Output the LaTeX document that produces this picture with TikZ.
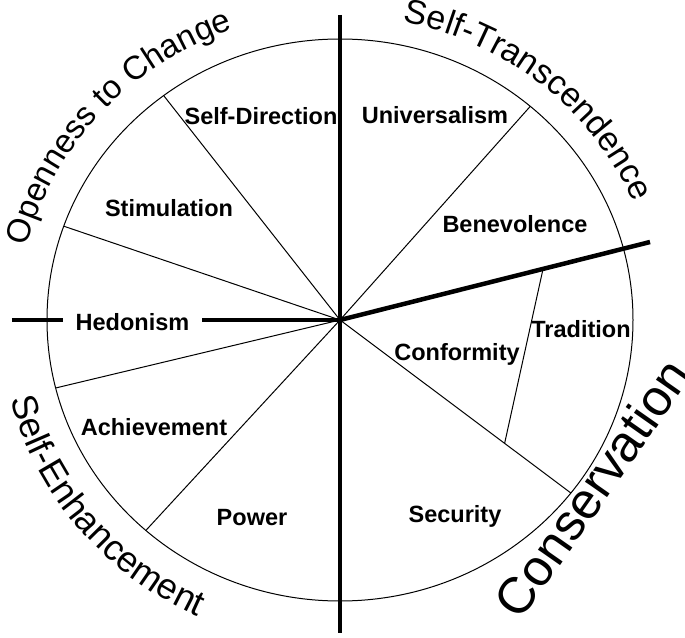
\documentclass[tikz,border=0pt]{standalone}
\usepackage{fontspec}
\setmainfont{Liberation Sans}
\usetikzlibrary{calc,decorations.text}
\newcommand{\valuefont}{\fontsize{23.5}{28}\bfseries\selectfont}
\newcommand{\groupfont}[1]{\fontsize{#1}{#1}\selectfont}
\tikzset{
  value/.style={font=\valuefont, inner sep=0pt, anchor=base},
  split/.style={line width=4.5pt},
  spoke/.style={line width=1pt},
  group/.style n args={2}{decorate, decoration={text along path, text align=center, text={|\groupfont{#1}|#2}}},
}

\begin{document}
\begin{tikzpicture}[x=1pt,y=1pt]
    \useasboundingbox (-340,-317) rectangle (345,320);
    \coordinate (O) at (0,0);
    % circle and thin spokes
    \draw[spoke] (O) ellipse [x radius=293, y radius=281];
    \foreach \angle in {127,160.5,194,228.5,49.5} {
       \draw[spoke] (O) -- (\angle:293 and 281);
     }
    \coordinate (secend) at (-38:293 and 281);
    \draw[spoke] (O) -- (secend);
    % bold axes
    \coordinate (top) at (0,305);
    \coordinate (bottom) at (0,-313);
    \coordinate (westend) at (-328,0);
    \coordinate (eastend) at (310,78);
    \draw[split] (top) -- (bottom);
    \draw[split] (O) -- (eastend);
    \coordinate (trad-a) at ($(O)!0.655!(eastend)$);
    \coordinate (trad-b) at ($(O)!0.713!(secend)$);
    \draw[spoke] (trad-a) -- (trad-b);
    % values
    \node[value] (selfdir) at (-79,195) {Self-Direction};
    \node[value] (stim) at (-171,103) {Stimulation};
    \node[value, inner xsep=12.7pt] (hedonism) at (-207.5,-10) {Hedonism};
    \draw[split] (westend) -- (hedonism.west |- O);
    \draw[split] (hedonism.east |- O) -- (O);
    \node[value] (achieve) at (-186,-115) {Achievement};
    \node[value] (power) at (-88,-205) {Power};
    \node[value] (univ) at (95,196) {Universalism};
    \node[value] (benev) at (175,87) {Benevolence};
    \node[value] (trad) at (241,-17) {Tradition};
    \node[value] (conf) at (117,-40) {Conformity};
    \node[value] (secur) at (115,-202) {Security};
    % groups
    \path[group={33}{Openness to Change}]
        (176:322 and 308) arc[start angle=176, end angle=100, x radius=322, y radius=308];
    \path[group={34}{Self-Transcendence}]
        (88:318 and 304) arc[start angle=88, end angle=13, x radius=318, y radius=304];
    \path[group={36}{Self-Enhancement}]
        (181:340 and 326) arc[start angle=181, end angle=258, x radius=340, y radius=326];
    \node[font=\fontsize{51}{60}\selectfont, rotate=55] (conserv) at (252,-168) {Conservation};
\end{tikzpicture}
\end{document}
